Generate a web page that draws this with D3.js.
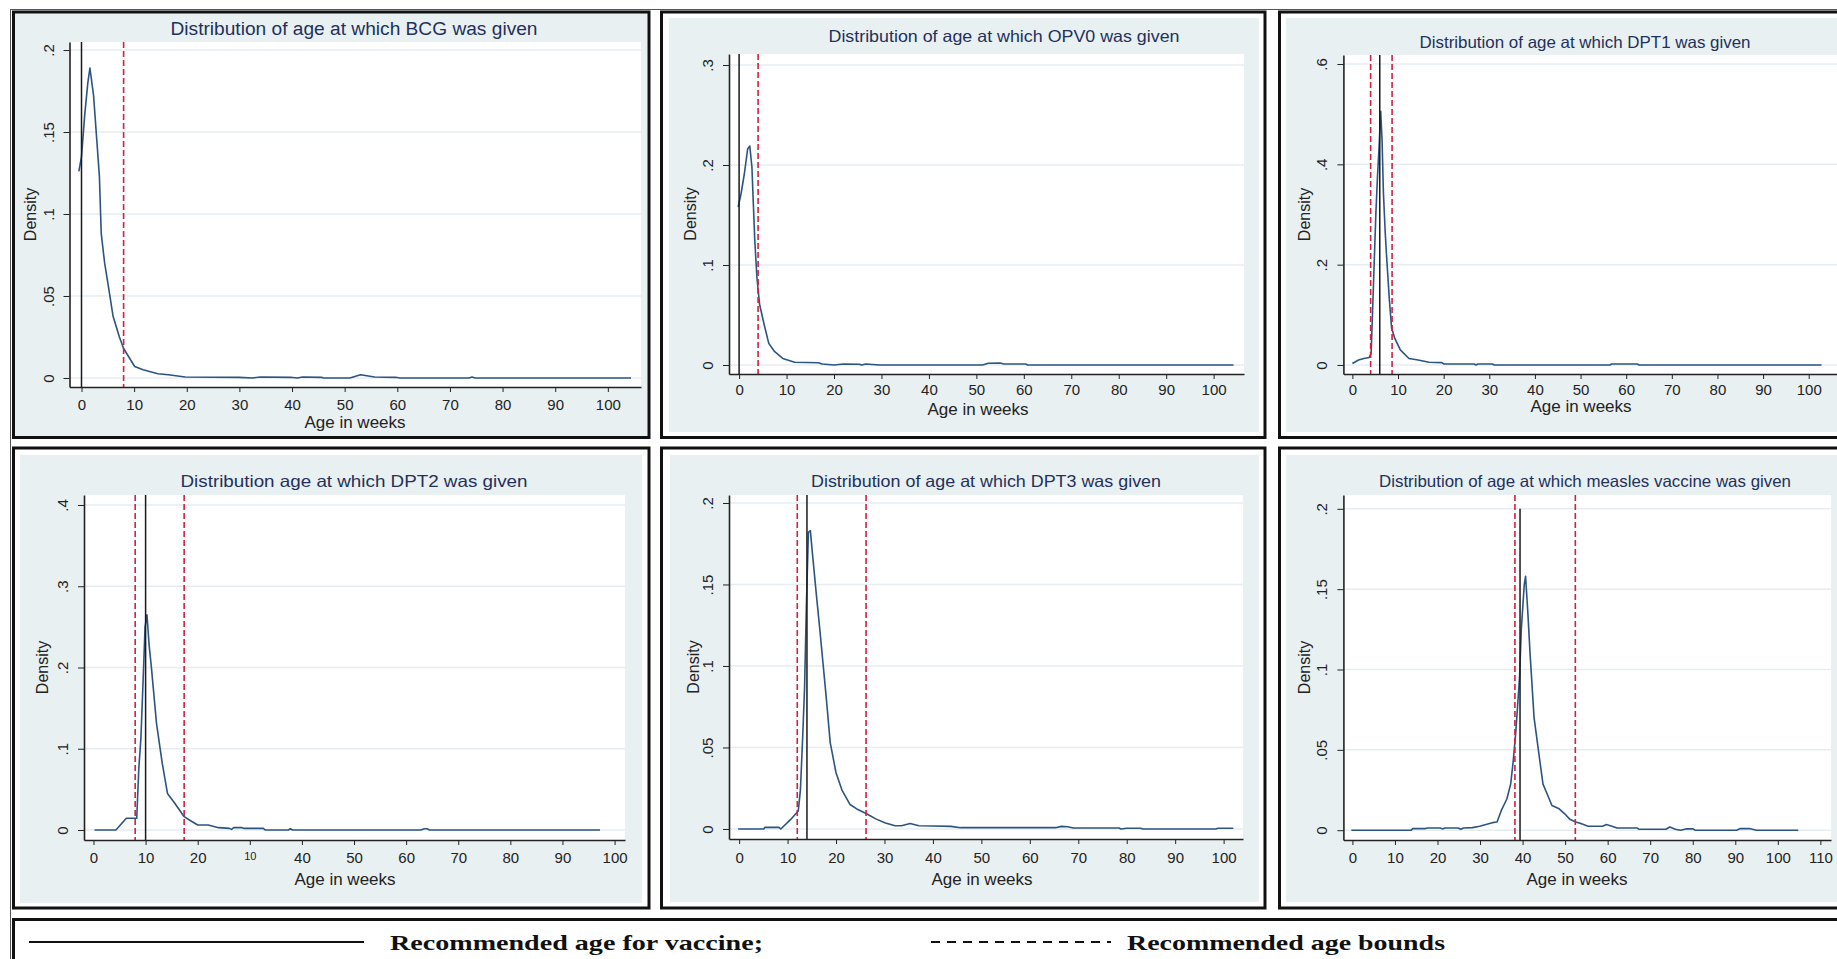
<!DOCTYPE html>
<html>
<head>
<meta charset="utf-8">
<script src="https://cdn.jsdelivr.net/npm/d3@7/dist/d3.min.js"></script>
<style>
    body { margin: 0; background: #fff; }
    svg { display: block; }
    .tick line { stroke: #222; }
    .domain { stroke: #222; }
</style>
</head>
<body>
<div id="holder"></div>
<script>
const titles = [
    "Distribution of age at which BCG was given",
    "Distribution of age at which OPV0 was given",
    "Distribution of age at which DPT1 was given",
    "Distribution age at which DPT2 was given",
    "Distribution of age at which DPT3 was given",
    "Distribution of age at which measles vaccine was given"
];

// recommended age (solid black) and bounds (red dashed), in weeks
const recommendedAge = [0, 0, 6, 10, 14, 39.4];
const recommendedTop = [null, null, null, null, null, 0.2];
const ageBounds = [[8], [4], [4, 8.7], [8, 17.4], [12, 26.2], [38.2, 52.4]];

const yTickValues = [
    [0, 0.05, 0.1, 0.15, 0.2],
    [0, 0.1, 0.2, 0.3],
    [0, 0.2, 0.4, 0.6],
    [0, 0.1, 0.2, 0.3, 0.4],
    [0, 0.05, 0.1, 0.15, 0.2],
    [0, 0.05, 0.1, 0.15, 0.2]
];
const xTicks100 = [0, 10, 20, 30, 40, 50, 60, 70, 80, 90, 100];
const xTicks110 = [0, 10, 20, 30, 40, 50, 60, 70, 80, 90, 100, 110];
const xTickLabelsDPT2 = ["0", "10", "20", "10", "40", "50", "60", "70", "80", "90", "100"];

// density curves [week, density]
const bcgDensity = [[-0.5, 0.126], [0, 0.135], [0.6, 0.16], [1.2, 0.18], [1.6, 0.189], [2.3, 0.172], [3.4, 0.123], [3.75, 0.088],
    [4.4, 0.07], [5.2, 0.054], [6, 0.0376], [7.2, 0.025], [8, 0.018], [10.1, 0.007], [11.7, 0.005], [14.5, 0.0026], [16.5, 0.002],
    [19.7, 0.0006], [30, 0.0004], [32.5, 0], [34, 0.0006], [39.7, 0.0004], [41, 0], [42, 0.0006], [45.6, 0.0004], [46, 0], [51, 0],
    [53, 0.002], [55.7, 0.0006], [59.7, 0.0004], [60.5, 0], [73.6, 0], [74.2, 0.0006], [74.8, 0], [104.4, 0]];

const opv0Density = [[-0.2, 0.158], [0.4, 0.171], [1.1, 0.191], [1.8, 0.216], [2.25, 0.219], [2.7, 0.198], [3, 0.161], [3.3, 0.125],
    [3.75, 0.088], [4.3, 0.061], [5.2, 0.042], [6.25, 0.0216], [7.5, 0.0133], [9.2, 0.0066], [11.7, 0.0027], [16.7, 0.0023],
    [17.5, 0.001], [20, 0], [22, 0.001], [25.4, 0.0007], [25.8, 0], [26.7, 0.001], [29.6, 0], [51.3, 0], [52.5, 0.0017], [55, 0.002],
    [55.8, 0.001], [60.4, 0.001], [60.8, 0], [104.2, 0]];

const dpt1Density = [[0, 0.003], [1.35, 0.01], [2.5, 0.013], [3.7, 0.015], [4.1, 0.023], [4.36, 0.09], [4.75, 0.196], [5.15, 0.303],
    [5.5, 0.376], [5.86, 0.436], [6.2, 0.506], [6.5, 0.449], [6.8, 0.343], [7.2, 0.263], [7.5, 0.216], [8.1, 0.13], [8.6, 0.073],
    [9.3, 0.053], [10.5, 0.03], [12.4, 0.013], [14.4, 0.01], [16.8, 0.0053], [19.6, 0.0047], [20, 0.002], [26.7, 0.002], [27.1, 0],
    [27.5, 0.002], [30.7, 0.002], [31.1, 0], [56.4, 0], [56.8, 0.002], [62.4, 0.002], [62.8, 0], [102.8, 0]];

const dpt2Density = [[0.2, 0], [4.3, 0], [6.3, 0.0144], [8.3, 0.0144], [8.7, 0.076], [9.1, 0.113], [9.5, 0.18], [9.9, 0.25],
    [10.26, 0.265], [10.7, 0.226], [11.1, 0.201], [12.1, 0.131], [13.2, 0.082], [14.2, 0.045], [15.6, 0.033], [17.4, 0.0164],
    [18.4, 0.0123], [20, 0.0062], [22, 0.0062], [24, 0.0029], [26.1, 0.002], [26.5, 0.0008], [26.9, 0.0029], [28.5, 0.0029],
    [28.9, 0.002], [32.6, 0.002], [33, 0], [37.4, 0], [37.8, 0.0016], [38.2, 0], [62.8, 0], [63.5, 0.0016], [64, 0.0016], [64.5, 0],
    [97.2, 0]];

const dpt3Density = [[-0.2, 0], [5.1, 0], [5.3, 0.001], [8.2, 0.001], [8.6, 0], [10.6, 0.0057], [12.2, 0.011], [12.65, 0.024],
    [13.1, 0.055], [13.5, 0.086], [13.9, 0.139], [14.3, 0.182], [14.7, 0.183], [15.1, 0.17], [15.9, 0.145], [16.7, 0.121], [18, 0.08],
    [18.8, 0.053], [20, 0.0345], [21.2, 0.024], [22.9, 0.015], [24.5, 0.0119], [26.4, 0.0092], [28.2, 0.0062], [30.2, 0.0037],
    [32.2, 0.002], [33.5, 0.002], [35.3, 0.0033], [37.1, 0.002], [40, 0.0018], [43.7, 0.0016], [45.7, 0.0008], [65.3, 0.0008],
    [66.5, 0.0016], [67.8, 0.0014], [69, 0.0006], [78.4, 0.0006], [78.8, 0], [80, 0.0004], [82.9, 0.0004], [83.3, 0], [98.4, 0],
    [98.8, 0.0004], [102, 0.0004]];

const measlesDensity = [[-0.25, 0], [13.8, 0], [14.2, 0.001], [17.2, 0.001], [17.6, 0.0014], [20.6, 0.0014], [21.3, 0.0008],
    [21.7, 0.0014], [24.8, 0.0014], [25.5, 0.0006], [26.1, 0.0014], [28.2, 0.0016], [29.9, 0.0025], [31.6, 0.0037], [32.9, 0.0047],
    [34, 0.0051], [35, 0.0123], [36.3, 0.0194], [37.2, 0.0287], [37.8, 0.043], [38.4, 0.061], [38.9, 0.08], [39.3, 0.096],
    [39.7, 0.125], [40.1, 0.141], [40.4, 0.153], [40.7, 0.158], [41.2, 0.137], [41.8, 0.108], [42.7, 0.07], [43.96, 0.045],
    [44.8, 0.0287], [46.1, 0.0205], [46.9, 0.0154], [48.6, 0.0133], [49.9, 0.0102], [51.2, 0.0066], [52.5, 0.0051], [53.7, 0.0041],
    [55.4, 0.0025], [58.8, 0.0025], [59.7, 0.0035], [61, 0.0025], [62.2, 0.0014], [66.9, 0.0014], [67.3, 0.0006], [73.7, 0.0006],
    [74.6, 0.002], [75.9, 0.0006], [77.1, 0], [78.4, 0.0008], [80.1, 0.0008], [80.5, 0], [90.3, 0], [91.2, 0.001], [93.3, 0.001],
    [95, 0], [104.8, 0]];

const densities = [bcgDensity, opv0Density, dpt1Density, dpt2Density, dpt3Density, measlesDensity];
const xTicks = [xTicks100, xTicks100, xTicks100, xTicks100, xTicks100, xTicks110];

const legendLabels = ["Recommended age for vaccine;", "Recommended age bounds"];

// pixel layout for each panel
const layout = [
    {box: [13.5, 12, 649, 437.5], bg: [14.5, 13, 647.5, 436.5], plot: [69.5, 42, 641, 387], xd: [-2.28, 106.3], yd: [-0.0055, 0.2049],
        title: [354, 35, 18, 367], xTitle: [355, 428], tickY: 23, dens: 34},
    {box: [661.5, 12, 1265, 437.5], bg: [669, 18, 1259, 432], plot: [729, 54, 1244, 374], xd: [-2.13, 106.4], yd: [-0.009, 0.311],
        title: [1004, 42, 16.5, 351], xTitle: [978, 415], tickY: 21, dens: 33},
    {box: [1279.5, 12, 1900, 437.5], bg: [1286, 18, 1890, 432], plot: [1343.4, 55, 1858, 374], xd: [-1.97, 110.8], yd: [-0.018, 0.618],
        title: [1585, 48, 16.5, 331], xTitle: [1581, 412], tickY: 21, dens: 33},
    {box: [13.5, 448, 649, 908], bg: [20, 455, 642, 903], plot: [84, 495, 625, 840], xd: [-1.82, 102], yd: [-0.0123, 0.4123],
        title: [354, 487, 16.5, 347], xTitle: [345, 885], tickY: 23, dens: 36},
    {box: [661.5, 448, 1265, 908], bg: [670, 455, 1259, 902], plot: [729, 495, 1243, 839], xd: [-2.09, 104], yd: [-0.00615, 0.2049],
        title: [986, 487, 16.5, 350], xTitle: [982, 885], tickY: 24, dens: 30},
    {box: [1279.5, 448, 1900, 908], bg: [1286, 455, 1890, 902], plot: [1343.4, 495, 1831, 840], xd: [-2.12, 112.5], yd: [-0.0061, 0.2086],
        title: [1585, 487, 16.5, 412], xTitle: [1577, 885], tickY: 23, dens: 33}
];

const w = 1837, h = 959;
const font = "'Liberation Sans', Arial, sans-serif";
const fmtY = v => v === 0 ? "0" : d3.format(".2~f")(v).replace(/^0/, "");

const svg = d3.select('#holder')
    .append('svg')
    .attr('width', w)
    .attr('height', h);

// thin outer frame
svg.append('rect')
    .attr('x', 10.5).attr('y', 9.5)
    .attr('width', 2000).attr('height', 1000)
    .attr('fill', 'none').attr('stroke', '#555').attr('stroke-width', 1);

layout.forEach((L, i) => {
    const g = svg.append('g');
    const [pl, pt, pr, pb] = L.plot;

    g.append('rect')
        .attr('x', L.bg[0]).attr('y', L.bg[1])
        .attr('width', L.bg[2] - L.bg[0]).attr('height', L.bg[3] - L.bg[1])
        .attr('fill', '#e9f0f2');

    g.append('rect')
        .attr('x', L.box[0]).attr('y', L.box[1])
        .attr('width', L.box[2] - L.box[0]).attr('height', L.box[3] - L.box[1])
        .attr('fill', 'none').attr('stroke', '#111').attr('stroke-width', 3);

    g.append('rect')
        .attr('x', pl).attr('y', pt)
        .attr('width', pr - pl).attr('height', pb - pt)
        .attr('fill', '#fff');

    const xScale = d3.scaleLinear().domain(L.xd).range([pl, pr]);
    const yScale = d3.scaleLinear().domain(L.yd).range([pb, pt]);

    // grid
    g.selectAll('line.grid')
        .data(yTickValues[i])
        .enter()
        .append('line')
        .attr('class', 'grid')
        .attr('x1', pl).attr('x2', pr)
        .attr('y1', d => yScale(d)).attr('y2', d => yScale(d))
        .attr('stroke', '#e5edf0').attr('stroke-width', 1.5);

    const line = d3.line()
        .x(d => xScale(d[0]))
        .y(d => yScale(d[1]));

    g.append('path')
        .datum(densities[i])
        .attr('d', line)
        .attr('fill', 'none')
        .attr('stroke', '#2c5480')
        .attr('stroke-width', 1.6)
        .attr('stroke-linejoin', 'round');

    g.append('line')
        .attr('x1', xScale(recommendedAge[i])).attr('x2', xScale(recommendedAge[i]))
        .attr('y1', pb)
        .attr('y2', yScale(recommendedTop[i] === null ? L.yd[1] : recommendedTop[i]))
        .attr('stroke', '#1a1a1a').attr('stroke-width', 1.5);

    g.selectAll('line.bound')
        .data(ageBounds[i])
        .enter()
        .append('line')
        .attr('class', 'bound')
        .attr('x1', d => xScale(d)).attr('x2', d => xScale(d))
        .attr('y1', pt).attr('y2', pb)
        .attr('stroke', '#d3203f').attr('stroke-width', 1.6)
        .attr('stroke-dasharray', '6,3');

    const xAxis = d3.axisBottom(xScale)
        .tickValues(xTicks[i])
        .tickSize(5)
        .tickSizeOuter(0)
        .tickFormat((v, k) => i === 3 ? xTickLabelsDPT2[k] : String(v));

    const yAxis = d3.axisLeft(yScale)
        .tickValues(yTickValues[i])
        .tickSize(6)
        .tickSizeOuter(0)
        .tickFormat(fmtY);

    g.append('g')
        .attr('transform', `translate(0,${pb})`)
        .call(xAxis)
        .call(a => a.select('.domain').attr('stroke-width', 1.6))
        .call(a => a.selectAll('text')
            .attr('y', L.tickY).attr('dy', 0)
            .attr('fill', '#222')
            .style('font', `15px ${font}`))
        .call(a => a.selectAll('text')
            .filter((v, k) => i === 3 && xTickLabelsDPT2[k] !== String(v))
            .style('font-size', '11px')
            .attr('y', L.tickY - 3));

    g.append('g')
        .attr('transform', `translate(${pl},0)`)
        .call(yAxis)
        .call(a => a.select('.domain').attr('stroke-width', 1.6))
        .call(a => a.selectAll('text')
            .attr('x', 0).attr('dy', 0)
            .attr('y', -16)
            .attr('transform', 'rotate(-90)')
            .attr('text-anchor', 'middle')
            .attr('fill', '#222')
            .style('font', `15px ${font}`));

    g.append('text')
        .attr('transform', `translate(${pl - L.dens},${(pt + pb) / 2}) rotate(-90)`)
        .attr('text-anchor', 'middle')
        .attr('fill', '#222')
        .style('font', `16px ${font}`)
        .text('Density');

    g.append('text')
        .attr('x', L.xTitle[0]).attr('y', L.xTitle[1])
        .attr('text-anchor', 'middle')
        .attr('fill', '#222')
        .style('font', `17px ${font}`)
        .text('Age in weeks');

    g.append('text')
        .attr('x', L.title[0] - L.title[3] / 2).attr('y', L.title[1])
        .attr('textLength', L.title[3])
        .attr('lengthAdjust', 'spacingAndGlyphs')
        .attr('fill', '#22305a')
        .style('font', `${L.title[2]}px ${font}`)
        .text(titles[i]);
});

// legend
const legend = svg.append('g');
legend.append('rect')
    .attr('x', 13.5).attr('y', 919.5)
    .attr('width', 1900).attr('height', 100)
    .attr('fill', '#fff').attr('stroke', '#111').attr('stroke-width', 3);

legend.append('line')
    .attr('x1', 29).attr('x2', 364).attr('y1', 942).attr('y2', 942)
    .attr('stroke', '#111').attr('stroke-width', 1.8);

legend.append('line')
    .attr('x1', 931).attr('x2', 1111).attr('y1', 942).attr('y2', 942)
    .attr('stroke', '#111').attr('stroke-width', 1.8)
    .attr('stroke-dasharray', '9,7');

legend.selectAll('text')
    .data(legendLabels)
    .enter()
    .append('text')
    .attr('x', (d, k) => [390, 1127][k])
    .attr('y', 950)
    .attr('textLength', (d, k) => [373, 318][k])
    .attr('lengthAdjust', 'spacingAndGlyphs')
    .attr('fill', '#111')
    .style('font', "bold 21px 'Liberation Serif', 'Times New Roman', serif")
    .text(d => d);
</script>
</body>
</html>
